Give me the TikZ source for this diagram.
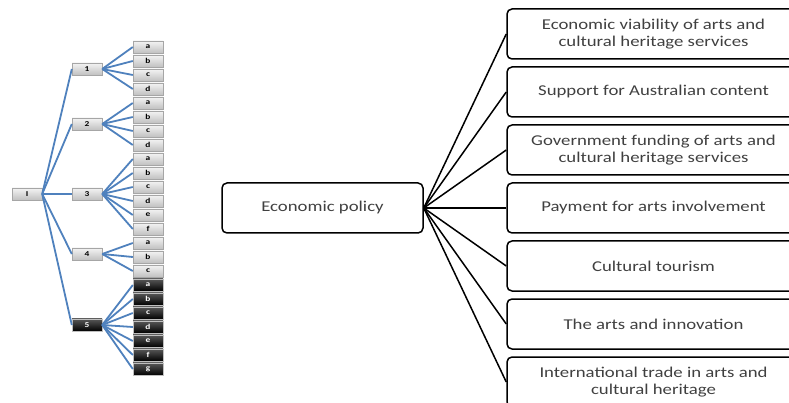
\documentclass[tikz,border=0pt]{standalone}
\usepackage{fontspec}
\setmainfont{Carlito}[FakeStretch=1.25]
\definecolor{linkblue}{RGB}{79,129,189}
\definecolor{boxtext}{RGB}{64,64,64}
\begin{document}
\begin{tikzpicture}[x=1pt,y=-1pt,
    grey/.style={draw=gray!70, top color=gray!8, bottom color=gray!50,
      minimum width=30pt, minimum height=12.5pt, inner sep=0pt,
      font=\fontsize{7.5}{7.5}\selectfont\bfseries},
    dark/.style={grey, draw=gray!50, top color=gray!70!black,
      bottom color=black, text=white},
    topic/.style={draw, line width=1.5pt, rounded corners=5pt,
      minimum width=293pt, minimum height=50pt, inner sep=0pt,
      align=center, text=boxtext, font=\fontsize{15}{17}\selectfont}]
  \useasboundingbox (0,0) rectangle (789,403);
  % left tree
  \draw
    (27,194) node[grey] (I){I}
    (87,69) node[grey] (1){1}
    (87,124) node[grey] (2){2}
    (87,194) node[grey] (3){3}
    (87,254) node[grey] (4){4}
    (87,325) node[dark] (5){5};
  \draw
    (148,47) node[grey] (1a){a}
    (148,61) node[grey] (1b){b}
    (148,75) node[grey] (1c){c}
    (148,89) node[grey] (1d){d}
    (148,103) node[grey] (2a){a}
    (148,117) node[grey] (2b){b}
    (148,131) node[grey] (2c){c}
    (148,145) node[grey] (2d){d}
    (148,159) node[grey] (3a){a}
    (148,173) node[grey] (3b){b}
    (148,187) node[grey] (3c){c}
    (148,201) node[grey] (3d){d}
    (148,215) node[grey] (3e){e}
    (148,229) node[grey] (3f){f}
    (148,243) node[grey] (4a){a}
    (148,257) node[grey] (4b){b}
    (148,271) node[grey] (4c){c}
    (148,285) node[dark] (5a){a}
    (148,299) node[dark] (5b){b}
    (148,313) node[dark] (5c){c}
    (148,327) node[dark] (5d){d}
    (148,341) node[dark] (5e){e}
    (148,355) node[dark] (5f){f}
    (148,369) node[dark] (5g){g};
  \begin{scope}[linkblue, line width=1.8pt]
    \draw (I.east) to (1.west);
    \draw (I.east) to (2.west);
    \draw (I.east) to (3.west);
    \draw (I.east) to (4.west);
    \draw (I.east) to (5.west);
    \draw (1.east) to (1a.west);
    \draw (1.east) to (1b.west);
    \draw (1.east) to (1c.west);
    \draw (1.east) to (1d.west);
    \draw (2.east) to (2a.west);
    \draw (2.east) to (2b.west);
    \draw (2.east) to (2c.west);
    \draw (2.east) to (2d.west);
    \draw (3.east) to (3a.west);
    \draw (3.east) to (3b.west);
    \draw (3.east) to (3c.west);
    \draw (3.east) to (3d.west);
    \draw (3.east) to (3e.west);
    \draw (3.east) to (3f.west);
    \draw (4.east) to (4a.west);
    \draw (4.east) to (4b.west);
    \draw (4.east) to (4c.west);
    \draw (5.east) to (5a.west);
    \draw (5.east) to (5b.west);
    \draw (5.east) to (5c.west);
    \draw (5.east) to (5d.west);
    \draw (5.east) to (5e.west);
    \draw (5.east) to (5f.west);
    \draw (5.east) to (5g.west);
  \end{scope}
  % right tree
  \draw
    (322.5,208) node[topic, minimum width=201pt] (ep){Economic policy}
    (653.5,34) node[topic] (t1){Economic viability of arts and\\cultural heritage services}
    (653.5,92) node[topic] (t2){Support for Australian content}
    (653.5,150) node[topic] (t3){Government funding of arts and\\cultural heritage services}
    (653.5,208) node[topic] (t4){Payment for arts involvement}
    (653.5,266) node[topic] (t5){Cultural tourism}
    (653.5,324) node[topic] (t6){The arts and innovation}
    (653.5,382) node[topic] (t7){International trade in arts and\\cultural heritage};
  \begin{scope}[line width=1.5pt]
    \draw (ep.east) to (t1.west);
    \draw (ep.east) to (t2.west);
    \draw (ep.east) to (t3.west);
    \draw (ep.east) to (t4.west);
    \draw (ep.east) to (t5.west);
    \draw (ep.east) to (t6.west);
    \draw (ep.east) to (t7.west);
  \end{scope}
\end{tikzpicture}
\end{document}
